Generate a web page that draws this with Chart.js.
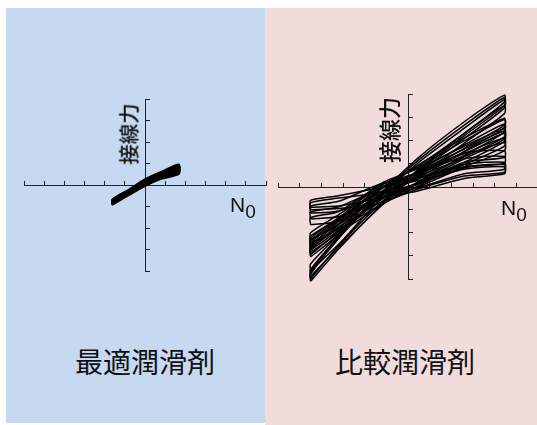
<!DOCTYPE html>
<html lang="ja">
<head>
<meta charset="utf-8">
<script src="https://cdn.jsdelivr.net/npm/chart.js@4.4.1/dist/chart.umd.min.js"></script>
<style>
  html, body { margin: 0; padding: 0; background: #fff; overflow: hidden; }
  #stage { position: relative; width: 537px; height: 425px; overflow: hidden; font-family: "Noto Sans CJK JP", sans-serif; color: #111; }
  #panelL { position: absolute; left: 6px; top: 8px; width: 259px; height: 415px; background: #c6d9f1; }
  #panelR { position: absolute; left: 265px; top: 8px; width: 272px; height: 417px; background: #f2dcdb; }
  canvas { position: absolute; }
  #chartL { left: 14px; top: 89px; }
  #chartR { left: 268px; top: 84px; }
  .ylab { position: absolute; line-height: 1; font-weight: 500; white-space: nowrap; transform: translate(-50%, -50%) rotate(-90deg); }
  .nlab { position: absolute; font-family: "Liberation Sans", Arial, sans-serif; font-size: 21px; line-height: 1; white-space: nowrap; }
  .nlab span { font-size: 19px; position: relative; top: 6px; }
  .caption { position: absolute; font-size: 28px; font-weight: 400; line-height: 1; white-space: nowrap; transform: translate(-50%, -50%); }
</style>
</head>
<body>
<div id="stage">
  <div id="panelL"></div>
  <div id="panelR"></div>
  <canvas id="chartL" width="262" height="192"></canvas>
  <canvas id="chartR" width="280" height="205"></canvas>
  <div class="ylab" style="left:128px; top:134px; font-size:20.5px;">接線力</div>
  <div class="ylab" style="left:388px; top:130px; font-size:22px;">接線力</div>
  <div class="nlab" style="left:230px; top:194px;">N<span>0</span></div>
  <div class="nlab" style="left:501px; top:197px;">N<span>0</span></div>
  <div class="caption" style="left:145px; top:361px;">最適潤滑剤</div>
  <div class="caption" style="left:405px; top:361px;">比較潤滑剤</div>
</div>
<script>
// axis ranges (both panels share the same tick grid)
const xRange = [-6, 6];
const yRange = [-4, 4];

// left panel: optimal lubricant, narrow loop band
const leftX = [-1.63, -0.8, 0, 0.8, 1.68];
const left1Lo = [-0.94, -0.48, -0.06, 0.28, 0.5];
const left1Hi = [-0.66, -0.2, 0.28, 0.62, 0.96];
const left2Lo = [-0.9, -0.44, -0.02, 0.32, 0.56];
const left2Hi = [-0.7, -0.26, 0.2, 0.56, 0.9];

// right panel: comparison lubricant, many wide loops
const rightX = [-4.5, -3.2, -1.3, 0.5, 2.6, 4.45];
const steep1Lo = [-4.1, -2.7, -0.85, 0.76, 2.3, 3.65];
const steep1Hi = [-3.8, -2.25, -0.35, 1.26, 2.8, 3.95];
const steep2Lo = [-3.9, -2.63, -0.9, 0.6, 2.08, 3.4];
const steep2Hi = [-3.6, -2.2, -0.45, 1.05, 2.52, 3.75];
const steep3Lo = [-3.65, -2.5, -0.6, 0.45, 1.88, 3.15];
const steep3Hi = [-3.35, -2.08, -0.15, 0.9, 2.3, 3.5];
const steep4Lo = [-4.0, -2.55, -0.75, 0.7, 2.2, 3.5];
const steep4Hi = [-3.7, -2.15, -0.35, 1.15, 2.65, 3.85];
const mid1Lo = [-3.05, -2.08, -0.45, 0.4, 1.52, 2.55];
const mid1Hi = [-2.75, -1.64, 0.0, 0.85, 1.98, 2.9];
const mid2Lo = [-2.85, -2.02, -0.85, 0.22, 1.35, 2.35];
const mid2Hi = [-2.55, -1.6, -0.4, 0.68, 1.8, 2.7];
const mid3Lo = [-2.65, -1.8, -0.35, 0.33, 1.28, 2.15];
const mid3Hi = [-2.35, -1.38, 0.1, 0.8, 1.74, 2.5];
const mid4Lo = [-2.45, -1.83, -0.82, 0.04, 1.04, 1.95];
const mid4Hi = [-2.15, -1.4, -0.38, 0.5, 1.5, 2.3];
const mid5Lo = [-2.3, -1.65, -0.5, 0.12, 0.96, 1.75];
const mid5Hi = [-2.0, -1.22, -0.05, 0.58, 1.42, 2.1];
const mid6Lo = [-2.75, -1.9, -0.52, 0.12, 0.86, 1.55];
const mid6Hi = [-2.45, -1.45, -0.08, 0.58, 1.32, 1.9];
const mid7Lo = [-2.95, -1.95, -0.6, 0.5, 1.65, 2.65];
const mid7Hi = [-2.65, -1.5, -0.15, 0.95, 2.1, 2.95];
const mid8Lo = [-2.55, -1.75, -0.7, 0.2, 1.2, 2.05];
const mid8Hi = [-2.25, -1.35, -0.25, 0.65, 1.62, 2.4];
const flat1Lo = [-1.65, -1.5, -0.4, 0.16, 1.05, 1.25];
const flat1Hi = [-1.35, -1.08, 0.05, 0.62, 1.45, 1.55];
const flat2Lo = [-1.4, -1.3, -0.55, 0.0, 0.8, 1.0];
const flat2Hi = [-1.1, -0.88, -0.1, 0.45, 1.2, 1.3];
const flat3Lo = [-1.15, -1.06, -0.35, -0.04, 0.55, 0.75];
const flat3Hi = [-0.85, -0.64, 0.1, 0.4, 0.95, 1.05];
const flat4Lo = [-0.9, -0.84, -0.5, -0.18, 0.35, 0.55];
const flat4Hi = [-0.6, -0.4, -0.05, 0.26, 0.75, 0.85];
const flat5Lo = [-1.0, -0.95, -0.7, -0.1, 0.45, 0.62];
const flat5Hi = [-0.7, -0.5, -0.25, 0.35, 0.85, 0.95];

const AXIS_COLOR = '#222';

// one closed loop: lower branch left->right, upper branch back, then close
function loopPoints(xs, lo, hi) {
  const pts = xs.map((x, i) => ({ x, y: lo[i] }));
  for (let i = xs.length - 1; i >= 0; i--) pts.push({ x: xs[i], y: hi[i] });
  pts.push({ x: xs[0], y: lo[0] });
  return pts;
}

function loopDataset(xs, lo, hi, filled) {
  return {
    data: loopPoints(xs, lo, hi),
    showLine: true,
    pointRadius: 0,
    borderColor: '#000',
    borderWidth: filled ? 1.5 : 1.5,
    backgroundColor: '#000',
    fill: filled ? 'shape' : false,
    tension: 0.25,
    clip: false
  };
}

function axisOptions(range) {
  return {
    type: 'linear',
    min: range[0],
    max: range[1],
    position: 'center',
    ticks: { display: false, stepSize: 1 },
    grid: { drawOnChartArea: false, drawTicks: true, tickLength: -5, color: AXIS_COLOR, lineWidth: 1 },
    border: { display: true, color: AXIS_COLOR, width: 1 }
  };
}

function makeChart(id, datasets) {
  return new Chart(document.getElementById(id), {
    type: 'scatter',
    data: { datasets },
    options: {
      responsive: false,
      animation: false,
      layout: { padding: 10 },
      plugins: { legend: { display: false }, tooltip: { enabled: false } },
      scales: { x: axisOptions(xRange), y: axisOptions(yRange) }
    }
  });
}

makeChart('chartL', [
  loopDataset(leftX, left1Lo, left1Hi, true),
  loopDataset(leftX, left2Lo, left2Hi, true)
]);

makeChart('chartR', [
  [steep1Lo, steep1Hi], [steep2Lo, steep2Hi], [steep3Lo, steep3Hi], [steep4Lo, steep4Hi],
  [mid1Lo, mid1Hi], [mid2Lo, mid2Hi], [mid3Lo, mid3Hi], [mid4Lo, mid4Hi],
  [mid5Lo, mid5Hi], [mid6Lo, mid6Hi], [mid7Lo, mid7Hi], [mid8Lo, mid8Hi],
  [flat1Lo, flat1Hi], [flat2Lo, flat2Hi], [flat3Lo, flat3Hi], [flat4Lo, flat4Hi], [flat5Lo, flat5Hi]
].map(([lo, hi]) => loopDataset(rightX, lo, hi, false)));
</script>
</body>
</html>
